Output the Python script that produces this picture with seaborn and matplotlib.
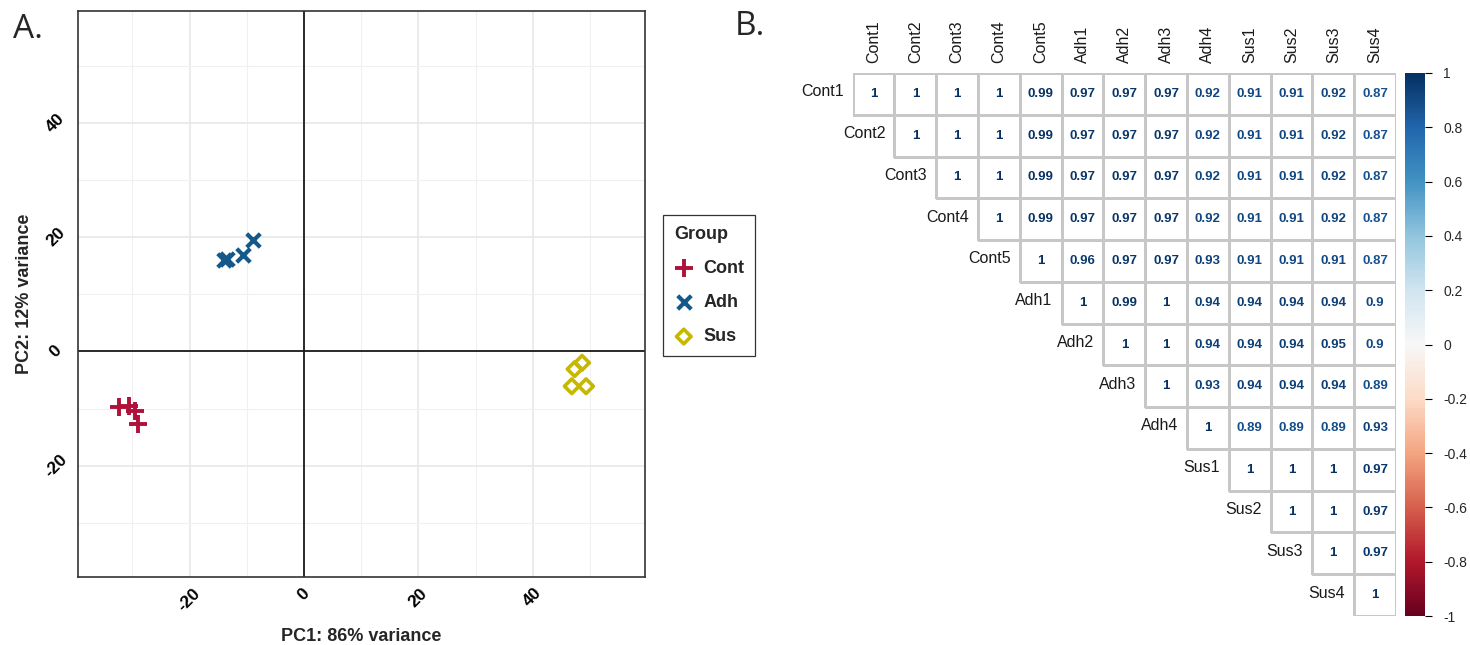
import numpy as np
import pandas as pd
import matplotlib
matplotlib.use("Agg")
import matplotlib.pyplot as plt
import seaborn as sns
from matplotlib.colors import ListedColormap, Normalize
from matplotlib.cm import ScalarMappable

# ---------------- data ----------------
groups = ["Cont", "Adh", "Sus"]
group_colors = ["#B0103A", "#14598A", "#C6B800"]

cont_pc1 = [-32.4, -30.5, -29.5, -29.0]
cont_pc2 = [-9.7, -9.6, -10.5, -12.7]
adh_pc1 = [-14.0, -13.4, -10.6, -8.9]
adh_pc2 = [16.0, 16.2, 16.9, 19.5]
sus_pc1 = [48.6, 47.3, 46.8, 49.3]
sus_pc2 = [-2.0, -3.1, -6.1, -6.1]

x_ticks = [-20, 0, 20, 40]
y_ticks = [-20, 0, 20, 40]

samples = ["Cont1", "Cont2", "Cont3", "Cont4", "Cont5",
           "Adh1", "Adh2", "Adh3", "Adh4",
           "Sus1", "Sus2", "Sus3", "Sus4"]

# upper-triangle rows of the correlation matrix (from diagonal rightwards)
corr_cont1 = [1, 1, 1, 1, 0.99, 0.97, 0.97, 0.97, 0.92, 0.91, 0.91, 0.92, 0.87]
corr_cont2 = [1, 1, 1, 0.99, 0.97, 0.97, 0.97, 0.92, 0.91, 0.91, 0.92, 0.87]
corr_cont3 = [1, 1, 0.99, 0.97, 0.97, 0.97, 0.92, 0.91, 0.91, 0.92, 0.87]
corr_cont4 = [1, 0.99, 0.97, 0.97, 0.97, 0.92, 0.91, 0.91, 0.92, 0.87]
corr_cont5 = [1, 0.96, 0.97, 0.97, 0.93, 0.91, 0.91, 0.91, 0.87]
corr_adh1 = [1, 0.99, 1, 0.94, 0.94, 0.94, 0.94, 0.9]
corr_adh2 = [1, 1, 0.94, 0.94, 0.94, 0.95, 0.9]
corr_adh3 = [1, 0.93, 0.94, 0.94, 0.94, 0.89]
corr_adh4 = [1, 0.89, 0.89, 0.89, 0.93]
corr_sus1 = [1, 1, 1, 0.97]
corr_sus2 = [1, 1, 0.97]
corr_sus3 = [1, 0.97]
corr_sus4 = [1]

cbar_ticks = [-1, -0.8, -0.6, -0.4, -0.2, 0, 0.2, 0.4, 0.6, 0.8, 1]

# ---------------- style ----------------
sns.set_style("white")
plt.rcParams["font.family"] = ["Liberation Sans", "DejaVu Sans"]
plt.rcParams["axes.unicode_minus"] = False

W, H = 1470, 645
fig = plt.figure(figsize=(W / 100, H / 100), dpi=100)

# ---------------- panel A: PCA ----------------
ax = fig.add_axes([78 / W, (H - 577) / H, 567 / W, 566 / H])

pca = pd.DataFrame({
    "PC1": cont_pc1 + adh_pc1 + sus_pc1,
    "PC2": cont_pc2 + adh_pc2 + sus_pc2,
    "Group": ["Cont"] * len(cont_pc1) + ["Adh"] * len(adh_pc1) + ["Sus"] * len(sus_pc1),
})

ax.set_xlim(-39.5, 59.6)
ax.set_ylim(-39.5, 59.6)
ax.set_xticks(x_ticks)
ax.set_yticks(y_ticks)
ax.set_xticks([-30, -10, 10, 30, 50], minor=True)
ax.set_yticks([-30, -10, 10, 30, 50], minor=True)
ax.grid(which="major", color="#E8E8E8", lw=1.2, zorder=0)
ax.grid(which="minor", color="#F0F0F0", lw=0.8, zorder=0)
ax.set_axisbelow(True)
ax.axhline(0, color="#1a1a1a", lw=1.3, zorder=1)
ax.axvline(0, color="#1a1a1a", lw=1.3, zorder=1)

marker_specs = {
    "Cont": dict(marker="+", s=170, linewidth=2.8),
    "Adh": dict(marker="x", s=95, linewidth=3.0),
    "Sus": dict(marker="D", s=55, linewidth=2.6),
}
for g, col in zip(groups, group_colors):
    sub = pca[pca["Group"] == g]
    sns.scatterplot(data=sub, x="PC1", y="PC2", color=col, ax=ax,
                    label=g, legend=False, zorder=3, **marker_specs[g])
    if g == "Sus":
        coll = ax.collections[-1]
        coll.set_facecolor("none")
        coll.set_edgecolor(col)

for s in ax.spines.values():
    s.set_color("#333333")
    s.set_linewidth(1.2)

ax.tick_params(which="major", length=3, width=0.8, color="#333333",
               labelsize=12.5, labelcolor="black")
ax.tick_params(which="minor", length=0)
ax.tick_params(axis="x", pad=3)
ax.tick_params(axis="y", pad=13)
for lab in ax.get_xticklabels():
    lab.set_rotation(45)
    lab.set_ha("center")
    lab.set_va("top")
    lab.set_fontweight("bold")
for lab in ax.get_yticklabels():
    lab.set_rotation(45)
    lab.set_ha("center")
    lab.set_va("center")
    lab.set_fontweight("bold")

ax.set_xlabel("PC1: 86% variance", fontsize=13, fontweight="bold", labelpad=10)
ax.set_ylabel("PC2: 12% variance", fontsize=13, fontweight="bold", labelpad=6)

leg = ax.legend(title="Group", loc="upper left",
                bbox_to_anchor=(663 / W, 1 - 215 / H), bbox_transform=fig.transFigure,
                borderaxespad=0.0,
                frameon=True, fancybox=False, edgecolor="black",
                prop={"weight": "bold", "size": 13},
                title_fontproperties={"weight": "bold", "size": 13},
                labelspacing=0.95, handletextpad=0.55, handlelength=1.1,
                borderpad=0.6, markerscale=1.0, alignment="left")
leg.get_frame().set_linewidth(0.9)

fig.text(13 / W, 1 - 38 / H, "A.", fontsize=24, family=["Open Sans", "DejaVu Sans"])
fig.text(735 / W, 1 - 35 / H, "B.", fontsize=24, family=["Open Sans", "DejaVu Sans"])

# ---------------- panel B: correlation ----------------
rows = [corr_cont1, corr_cont2, corr_cont3, corr_cont4, corr_cont5,
        corr_adh1, corr_adh2, corr_adh3, corr_adh4,
        corr_sus1, corr_sus2, corr_sus3, corr_sus4]
n = len(samples)
M = np.zeros((n, n))
for i, r in enumerate(rows):
    M[i, i:] = r
    M[i:, i] = r
corr_df = pd.DataFrame(M, index=samples, columns=samples)
mask = np.tril(np.ones((n, n), dtype=bool), k=-1)
annot = np.array([[f"{v:g}" for v in row] for row in M])

hax = fig.add_axes([852.7 / W, 29 / H, 543.3 / W, 543 / H])
sns.heatmap(corr_df, mask=mask, cmap=ListedColormap(["white"]), cbar=False,
            annot=annot, fmt="", annot_kws={"fontsize": 9.5, "fontweight": "bold"},
            linewidths=1.0, linecolor="#C8C8C8", ax=hax)

# hide cell borders for the masked (lower) triangle
mesh = hax.collections[0]
edge = np.array([[0, 0, 0, 0] if mask[i, j] else [0.78, 0.78, 0.78, 1.0]
                 for i in range(n) for j in range(n)])
mesh.set_edgecolor(edge)

cmap = plt.get_cmap("RdBu")
norm = Normalize(vmin=-1, vmax=1)
for t in hax.texts:
    try:
        v = float(t.get_text())
    except ValueError:
        continue
    t.set_color(cmap(norm(v)))

hax.xaxis.tick_top()
hax.set_xticks(np.arange(n) + 0.5)
hax.set_xticklabels(samples, rotation=90, fontsize=11.5, color="#1a1a1a")
hax.tick_params(axis="x", length=0, pad=7)
hax.set_yticks([])
hax.set_xlabel("")
hax.set_ylabel("")
for i, s in enumerate(samples):
    hax.text(i - 0.22, i + 0.45, s, ha="right", va="center", fontsize=11.5, color="#1a1a1a")

cax = fig.add_axes([1405 / W, 29 / H, 20 / W, 543 / H])
cb = fig.colorbar(ScalarMappable(norm=norm, cmap=cmap), cax=cax)
cb.set_ticks(cbar_ticks)
cb.set_ticklabels([f"{v:g}" for v in cbar_ticks])
cb.outline.set_visible(False)
cax.tick_params(length=5, width=0.8, color="black", labelsize=10, pad=8)

fig.savefig("out.png", dpi=100)
